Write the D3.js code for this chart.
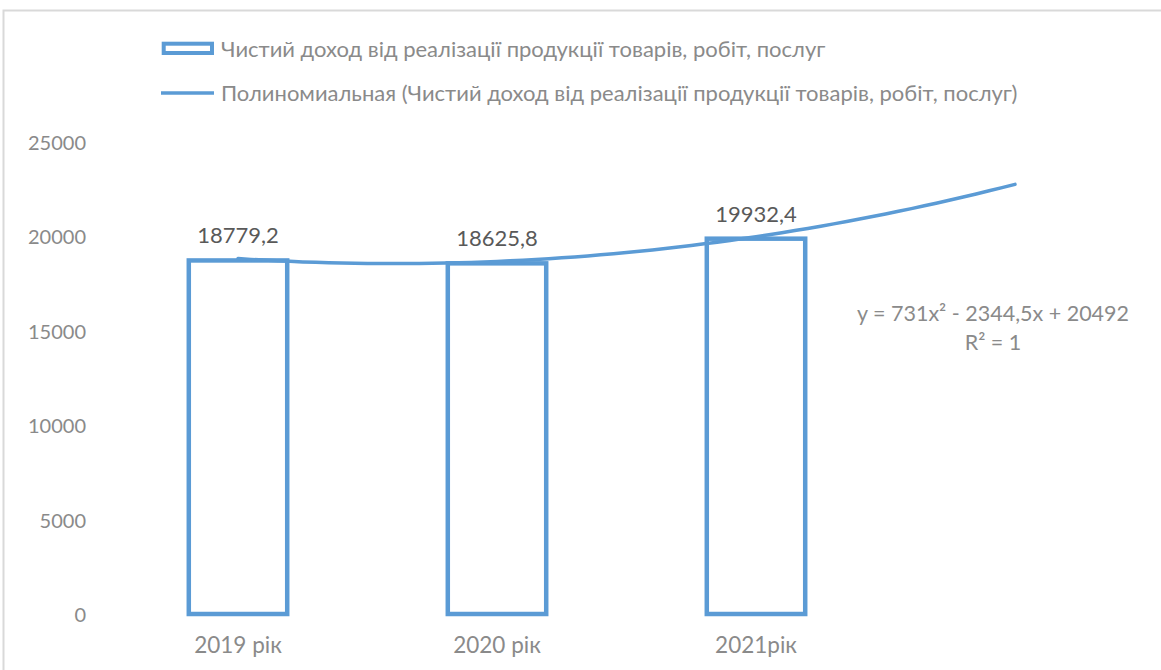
<!DOCTYPE html>
<html>
<head>
<meta charset="utf-8">
<script src="https://cdn.jsdelivr.net/npm/d3@7"></script>
<style>
  html, body { margin: 0; padding: 0; background: #ffffff; }
  svg { display: block; }
</style>
</head>
<body>
<svg id="chart" width="1161" height="670"></svg>
<script>
// ---- data ----
const categories = ["2019 рік", "2020 рік", "2021рік"];
const values = [18779.2, 18625.8, 19932.4];
const valueLabels = ["18779,2", "18625,8", "19932,4"];
const yTicks = [0, 5000, 10000, 15000, 20000, 25000];
const trendCoefficients = [731, -2344.5, 20492]; // y = a x^2 + b x + c (from the chart's equation)
const trendForwardPeriods = 1;
const legendLabels = [
  "Чистий доход від реалізації продукції товарів, робіт, послуг",
  "Полиномиальная (Чистий доход від реалізації продукції товарів, робіт, послуг)"
];
const equationLines = ["y = 731x² - 2344,5x + 20492", "R² = 1"];

// ---- style ----
const blue = "#5b9bd5";
const axisGray = "#8a8a8a";
const labelGray = "#595959";
const font = "Lato, 'Open Sans', sans-serif";

const svg = d3.select("#chart");

// chart border
svg.append("path")
  .attr("d", "M3.5,670 V10.5 H1161")
  .attr("fill", "none")
  .attr("stroke", "#d9d9d9")
  .attr("stroke-width", 2);

const x = d3.scaleBand()
  .domain(categories)
  .range([108.5, 885.5])
  .paddingInner(0.62)
  .paddingOuter(0.31);

const y = d3.scaleLinear()
  .domain([0, 25000])
  .range([615, 143]);

// y axis labels (no line, no gridlines)
const yAxis = d3.axisLeft(y).tickValues(yTicks).tickSize(0).tickPadding(0)
  .tickFormat(d3.format("d"));
const gy = svg.append("g").attr("transform", "translate(86,0)").call(yAxis);
gy.select(".domain").remove();
gy.selectAll("text")
  .attr("fill", axisGray)
  .style("font-family", font)
  .style("font-size", "20px");

// x axis labels
const xAxis = d3.axisBottom(x).tickSize(0).tickPadding(0);
const gx = svg.append("g").attr("transform", "translate(0,653)").call(xAxis);
gx.select(".domain").remove();
gx.selectAll("text")
  .attr("fill", axisGray)
  .attr("y", 0)
  .attr("dy", "0")
  .style("font-family", font)
  .style("font-size", "22.5px");

// bars (outlined)
const sw = 4.5;
svg.append("g").selectAll("rect")
  .data(values)
  .join("rect")
  .attr("x", (d, i) => x(categories[i]))
  .attr("y", d => y(d))
  .attr("width", x.bandwidth())
  .attr("height", d => y(0) - y(d) - 1)
  .attr("fill", "none")
  .attr("stroke", blue)
  .attr("stroke-width", sw);

// data labels
svg.append("g").selectAll("text")
  .data(values)
  .join("text")
  .attr("x", (d, i) => x(categories[i]) + x.bandwidth() / 2)
  .attr("y", d => y(d) - 17)
  .attr("text-anchor", "middle")
  .attr("fill", labelGray)
  .style("font-family", font)
  .style("font-size", "22px")
  .text((d, i) => valueLabels[i]);

// polynomial trendline (category index 1..n+forward)
const step = x.step();
const xIdx = d3.scaleLinear()
  .domain([1, 2])
  .range([x(categories[0]) + x.bandwidth() / 2, x(categories[0]) + x.bandwidth() / 2 + step]);
const poly = t => trendCoefficients[0] * t * t + trendCoefficients[1] * t + trendCoefficients[2];
const tPts = d3.range(1, categories.length + trendForwardPeriods + 0.0001, 0.05);
svg.append("path")
  .datum(tPts)
  .attr("d", d3.line().x(t => xIdx(t)).y(t => y(poly(t))).curve(d3.curveLinear))
  .attr("fill", "none")
  .attr("stroke", blue)
  .attr("stroke-width", 3.5)
  .attr("stroke-linecap", "round");

// trendline equation
const eq = svg.append("g");
eq.selectAll("text")
  .data(equationLines)
  .join("text")
  .attr("x", 993)
  .attr("y", (d, i) => 321 + i * 29)
  .attr("text-anchor", "middle")
  .attr("fill", axisGray)
  .style("font-family", font)
  .style("font-size", "21.5px")
  .text(d => d);

// legend
const lg = svg.append("g");
lg.append("rect")
  .attr("x", 163.7).attr("y", 43.7)
  .attr("width", 48.3).attr("height", 9.3)
  .attr("fill", "none").attr("stroke", blue).attr("stroke-width", 4);
lg.append("line")
  .attr("x1", 161).attr("x2", 214).attr("y1", 93).attr("y2", 93)
  .attr("stroke", blue).attr("stroke-width", 3.5);
lg.selectAll("text")
  .data(legendLabels)
  .join("text")
  .attr("x", 221)
  .attr("y", (d, i) => 49 + i * 44)
  .attr("dy", "0.35em")
  .attr("fill", axisGray)
  .style("font-family", font)
  .style("font-size", "22px")
  .text(d => d);
</script>
</body>
</html>
